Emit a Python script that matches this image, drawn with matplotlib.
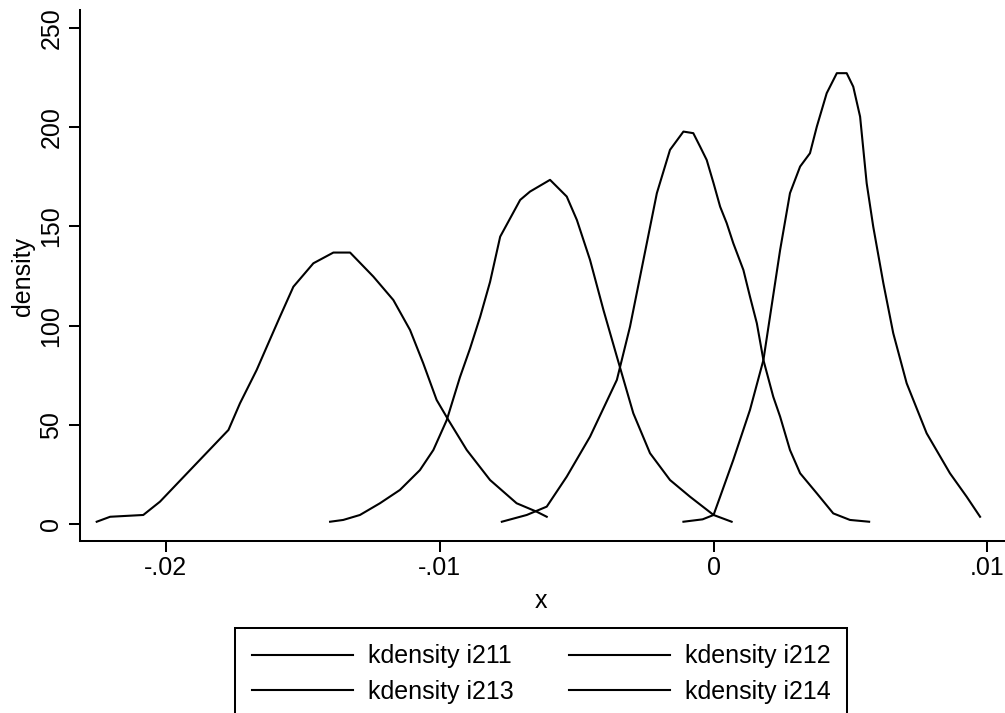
import matplotlib
matplotlib.use("Agg")
import matplotlib.pyplot as plt

plt.rcParams["font.family"] = ["Liberation Sans", "DejaVu Sans"]

# Kernel density estimates (x, density) for each series
i211_x = [-0.02252, -0.02203, -0.02082, -0.02021, -0.01911, -0.01771, -0.01729,
          -0.01668, -0.01631, -0.01583, -0.01534, -0.01461, -0.01388, -0.01327,
          -0.01242, -0.01169, -0.01108, -0.01060, -0.01011, -0.00968, -0.00901,
          -0.00816, -0.00719, -0.00645, -0.00609]
i211_y = [1.3, 3.8, 4.7, 11.4, 27.3, 47.5, 60.9, 77.7, 89.4, 104.5, 119.6, 131.4,
          136.8, 136.8, 124.7, 112.9, 97.8, 81.1, 62.6, 52.5, 37.4, 22.3, 10.6,
          6.3, 3.8]

i212_x = [-0.01400, -0.01352, -0.01291, -0.01218, -0.01145, -0.01072, -0.01023,
          -0.00974, -0.00926, -0.00889, -0.00852, -0.00816, -0.00779, -0.00706,
          -0.00670, -0.00597, -0.00536, -0.00499, -0.00451, -0.00402, -0.00353,
          -0.00293, -0.00232, -0.00159, -0.00086, 0.00000, 0.00066]
i212_y = [1.3, 2.2, 4.7, 10.6, 17.3, 27.3, 37.4, 52.5, 74.0, 88.5, 104.5, 122.0,
          144.8, 163.3, 167.5, 173.4, 165.0, 153.2, 133.1, 107.9, 84.4, 55.9,
          35.8, 22.3, 13.9, 4.7, 1.3]

i213_x = [-0.00773, -0.00682, -0.00609, -0.00536, -0.00451, -0.00353, -0.00305,
          -0.00256, -0.00207, -0.00159, -0.00110, -0.00074, -0.00049, -0.00025,
          0.00000, 0.00024, 0.00048, 0.00072, 0.00109, 0.00133, 0.00158, 0.00182,
          0.00218, 0.00243, 0.00279, 0.00316, 0.00377, 0.00437, 0.00498, 0.00568]
i213_y = [1.3, 4.7, 8.9, 24.0, 44.1, 72.7, 99.5, 133.1, 166.7, 188.5, 197.7,
          196.9, 190.1, 183.4, 171.7, 159.9, 151.6, 141.5, 128.0, 114.6, 101.2,
          82.7, 64.2, 54.2, 37.4, 25.7, 15.6, 5.5, 2.2, 1.3]

i214_x = [-0.00110, -0.00040, 0.00000, 0.00024, 0.00072, 0.00133, 0.00182,
          0.00206, 0.00243, 0.00279, 0.00316, 0.00352, 0.00377, 0.00413, 0.00450,
          0.00486, 0.00510, 0.00535, 0.00559, 0.00583, 0.00620, 0.00656, 0.00705,
          0.00778, 0.00863, 0.00924, 0.00973]
i214_y = [1.3, 2.5, 4.7, 13.9, 32.4, 57.6, 82.7, 104.5, 138.1, 166.7, 180.1,
          186.8, 200.2, 217.0, 227.1, 227.1, 220.3, 205.2, 171.7, 149.8, 121.3,
          96.2, 71.0, 45.8, 25.7, 13.9, 3.8]

series = [
    ("kdensity i211", i211_x, i211_y),
    ("kdensity i212", i212_x, i212_y),
    ("kdensity i213", i213_x, i213_y),
    ("kdensity i214", i214_x, i214_y),
]

x_ticks = [-0.02, -0.01, 0.0, 0.01]
x_tick_labels = ["-.02", "-.01", "0", ".01"]
y_ticks = [0, 50, 100, 150, 200, 250]
y_tick_labels = ["0", "50", "100", "150", "200", "250"]

W, H = 1005, 713
fig = plt.figure(figsize=(W / 100, H / 100), dpi=100)
ax = fig.add_axes([80 / W, 1 - 541 / H, (W - 80) / W, (541 - 10) / H])

handles = []
for label, xs, ys in series:
    (ln,) = ax.plot(xs, ys, color="black", lw=1.5, label=label)
    handles.append(ln)

ax.set_xlim(-0.02313, 0.01064)
ax.set_ylim(-8.4, 258.9)

for side in ("top", "right"):
    ax.spines[side].set_visible(False)
for side in ("left", "bottom"):
    ax.spines[side].set_linewidth(1.45)

ax.set_xticks(x_ticks)
ax.set_xticklabels(x_tick_labels)
ax.set_yticks(y_ticks)
ax.set_yticklabels(y_tick_labels, rotation=90, va="center")
ax.tick_params(axis="both", direction="out", length=7.9, width=1.45,
               labelsize=18, colors="black")
ax.tick_params(axis="x", pad=3.2)
ax.tick_params(axis="y", pad=4)

fig.text(23 / W, 1 - 276 / H, "density", rotation=90, ha="center",
         va="center", fontsize=18)
fig.text(541 / W, 1 - 608.3 / H, "x", ha="center", va="baseline", fontsize=18)

# Legend entries fill row by row: matplotlib fills columns first, so reorder
order = [0, 2, 1, 3]
leg = fig.legend([handles[i] for i in order], [series[i][0] for i in order],
                 ncol=2, loc="upper left",
                 bbox_to_anchor=(235 / W, 0, 612 / W, 1 - 628 / H),
                 mode="expand", fontsize=18, frameon=True, fancybox=False,
                 framealpha=1, edgecolor="black", handlelength=4.05,
                 handletextpad=0.6, borderpad=0.66, labelspacing=0.44,
                 borderaxespad=0)
leg.get_frame().set_linewidth(1.45)

fig.savefig("out.png", dpi=100)
